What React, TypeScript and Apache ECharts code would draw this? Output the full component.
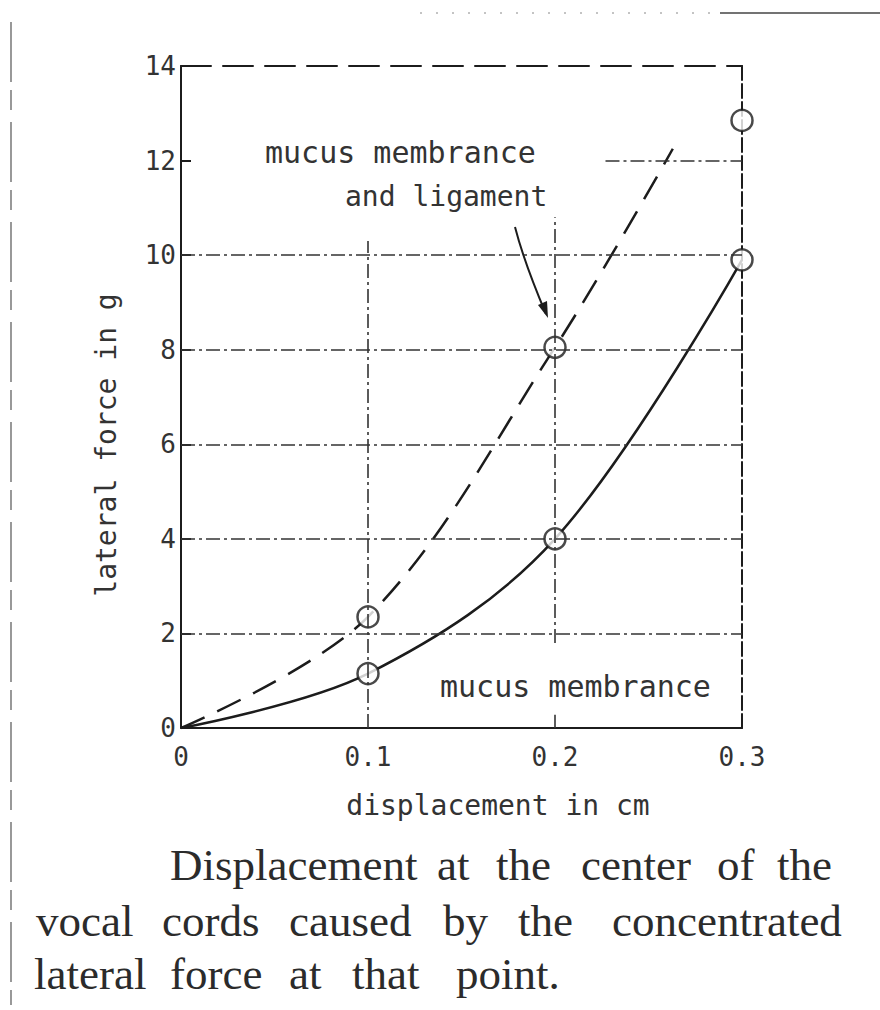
import React, { useEffect, useRef } from "react";
import * as echarts from "echarts";

// ---- data ----
const xTicks = [0, 0.1, 0.2, 0.3];
const yMin = 0;
const yMax = 14;
const yStep = 2;

// mucus membrance (solid curve)
const dispMucus = [0, 0.1, 0.2, 0.3];
const forceMucus = [0, 1.15, 4.0, 9.9];

// mucus membrance and ligament (dashed curve)
const dispLig = [0, 0.1, 0.2, 0.263];
const forceLig = [0, 2.35, 8.05, 12.25];

// measured points (circles)
const markDisp = [0.1, 0.2, 0.3];
const markMucus = [1.15, 4.0, 9.9];
const markLig = [2.35, 8.05, 12.85];

// grid lines drawn in the figure
const hGrid = [2, 4, 6, 8, 10];
const partialGrid = { y: 12, fromX: 0.227, toX: 0.3 };
const vGrid = [
  { x: 0.1, from: 0, to: 10.3 },
  { x: 0.2, from: 1.8, to: 10.8 },
  { x: 0.2, from: 0, to: 0.28 },
];

const captionLines = [
  { y: 865, words: [["Displacement", 170], ["at", 437], ["the", 496], ["center", 581], ["of", 717], ["the", 777]] },
  { y: 921, words: [["vocal", 36], ["cords", 162], ["caused", 289], ["by", 443], ["the", 518], ["concentrated", 612]] },
  { y: 974, words: [["lateral", 34], ["force", 170], ["at", 289], ["that", 352], ["point.", 456]] },
];

const INK = "#1c1c1c";
const MONO = "DejaVu Sans Mono";

export default function App() {
  const ref = useRef<HTMLDivElement>(null);
  useEffect(() => {
    if (!ref.current) return;
    const chart = echarts.init(ref.current, null, { renderer: "svg" });
    const zip = (a: number[], b: number[]) => a.map((v, i) => [v, b[i]]);
    const gridDash = [14, 4, 3, 4];

    const markLineData: any[] = [
      ...hGrid.map((v) => ({ yAxis: v })),
      [{ coord: [partialGrid.fromX, partialGrid.y] }, { coord: [partialGrid.toX, partialGrid.y] }],
      ...vGrid.map((g) => [{ coord: [g.x, g.from] }, { coord: [g.x, g.to] }]),
    ];

    const captionGraphics: any[] = [];
    captionLines.forEach((ln) => {
      ln.words.forEach(([w, x]) => {
        captionGraphics.push({
          type: "text",
          x: x as number,
          y: ln.y,
          style: {
            text: w as string,
            font: "45px 'Liberation Serif'",
            fill: "#2b2b2b",
            verticalAlign: "middle",
          },
        });
      });
    });

    chart.setOption({
      animation: false,
      backgroundColor: "#ffffff",
      grid: { left: 181, right: 138, top: 66, bottom: 282, containLabel: false },
      xAxis: [
        {
          type: "value",
          min: 0,
          max: 0.3,
          interval: 0.1,
          position: "bottom",
          axisLine: { show: true, onZero: false, lineStyle: { color: INK, width: 2 } },
          axisTick: { show: false },
          splitLine: { show: false },
          axisLabel: {
            margin: 16,
            fontFamily: MONO,
            fontSize: 26,
            color: "#333",
            formatter: (v: number) => (v === 0 ? "0" : v.toFixed(1)),
            customValues: xTicks,
          },
        },
        {
          type: "value",
          min: 0,
          max: 0.3,
          interval: 0.1,
          position: "top",
          axisLine: { show: true, onZero: false, lineStyle: { color: INK, width: 2, type: [30, 12] } },
          axisTick: { show: false },
          axisLabel: { show: false },
          splitLine: { show: false },
        },
      ],
      yAxis: [
        {
          type: "value",
          min: yMin,
          max: yMax,
          interval: yStep,
          position: "left",
          axisLine: { show: true, onZero: false, lineStyle: { color: INK, width: 2 } },
          axisTick: { show: true, inside: true, length: 10, lineStyle: { color: INK, width: 2 } },
          splitLine: { show: false },
          axisLabel: { margin: 5, fontFamily: MONO, fontSize: 26, color: "#333" },
        },
        {
          type: "value",
          min: yMin,
          max: yMax,
          interval: yStep,
          position: "right",
          axisLine: { show: true, onZero: false, lineStyle: { color: INK, width: 2, type: [14, 4] } },
          axisTick: { show: false },
          axisLabel: { show: false },
          splitLine: { show: false },
        },
      ],
      series: [
        {
          name: "mucus membrance",
          type: "line",
          xAxisIndex: 0,
          yAxisIndex: 0,
          data: zip(dispMucus, forceMucus),
          smooth: 0.35,
          symbol: "none",
          lineStyle: { color: INK, width: 2.5 },
          z: 3,
          markLine: {
            silent: true,
            symbol: "none",
            label: { show: false },
            lineStyle: { color: "#333", width: 1.6, type: gridDash },
            data: markLineData,
          },
        },
        {
          name: "mucus membrance and ligament",
          type: "line",
          xAxisIndex: 0,
          yAxisIndex: 0,
          data: zip(dispLig, forceLig),
          smooth: 0.35,
          symbol: "none",
          lineStyle: { color: INK, width: 2.5, type: [26, 14] },
          z: 3,
        },
        {
          type: "scatter",
          data: zip(markDisp, markMucus),
          symbol: "circle",
          symbolSize: 21,
          itemStyle: { color: "#fff", borderColor: INK, borderWidth: 2.5 },
          z: 4,
        },
        {
          type: "scatter",
          data: zip(markDisp, markLig),
          symbol: "circle",
          symbolSize: 21,
          itemStyle: { color: "#fff", borderColor: INK, borderWidth: 2.5 },
          z: 4,
        },
      ],
      graphic: [
        {
          type: "text",
          x: 265,
          y: 152,
          style: { text: "mucus membrance", font: `30px '${MONO}'`, fill: "#333", verticalAlign: "middle" },
        },
        {
          type: "text",
          x: 345,
          y: 196,
          style: { text: "and ligament", font: `28px '${MONO}'`, fill: "#333", verticalAlign: "middle" },
        },
        {
          type: "text",
          x: 440,
          y: 686,
          style: { text: "mucus membrance", font: `30px '${MONO}'`, fill: "#333", verticalAlign: "middle" },
        },
        {
          type: "text",
          x: 498,
          y: 805,
          style: { text: "displacement in cm", font: `28px '${MONO}'`, fill: "#333", align: "center", verticalAlign: "middle" },
        },
        {
          type: "text",
          x: 106,
          y: 445,
          rotation: Math.PI / 2,
          style: { text: "lateral force in g", font: `28px '${MONO}'`, fill: "#333", align: "center", verticalAlign: "middle" },
        },
        {
          type: "bezierCurve",
          shape: { x1: 515, y1: 227, cpx1: 524, cpy1: 262, x2: 546, y2: 314 },
          style: { stroke: INK, lineWidth: 2, fill: "none" },
        },
        {
          type: "polygon",
          shape: { points: [[548, 318], [547, 301], [538, 305]] },
          style: { fill: INK },
        },
        // scan edges
        {
          type: "line",
          shape: { x1: 11, y1: 22, x2: 11, y2: 1005 },
          style: { stroke: "#555", lineWidth: 1.2, lineDash: [60, 8, 20, 12] },
        },
        {
          type: "line",
          shape: { x1: 720, y1: 13, x2: 880, y2: 13 },
          style: { stroke: "#444", lineWidth: 1.5 },
        },
        {
          type: "line",
          shape: { x1: 420, y1: 13, x2: 720, y2: 13 },
          style: { stroke: "#888", lineWidth: 1, lineDash: [2, 14] },
        },
        ...captionGraphics,
      ],
    });
    return () => chart.dispose();
  }, []);
  return (
    <div
      ref={ref}
      style={{ position: "fixed", left: 0, top: 0, width: 880, height: 1010 }}
    />
  );
}
